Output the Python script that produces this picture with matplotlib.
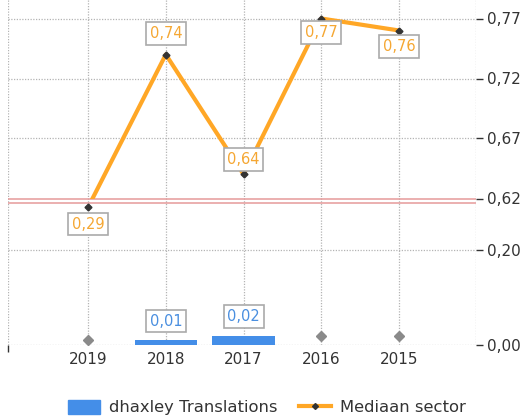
import numpy as np
import matplotlib.pyplot as plt
from matplotlib.lines import Line2D
from matplotlib.patches import Patch, Rectangle
from matplotlib.transforms import offset_copy

years = ['2019', '2018', '2017', '2016', '2015']
company = [np.nan, 0.01, 0.02, np.nan, np.nan]   # dhaxley Translations
sector = [0.29, 0.74, 0.64, 0.77, 0.76]          # Mediaan sector
ytick_vals = [0.00, 0.20, 0.62, 0.67, 0.72, 0.77]

ORANGE = '#FFA726'
BLUE = '#448EE8'
DARK = '#333333'
GRID = '#b4b4b4'

plt.rcParams['font.family'] = 'DejaVu Sans'

# broken y axis: lower part 0..0.30, upper part from 0.62 upward
brk_lo, brk_hi = 0.30, 0.62
k_lo, k_hi, gap = 475.0, 1200.0, 4.0
base = brk_lo * k_lo + gap


def fwd(v):
    v = np.asarray(v, dtype=float)
    mid = brk_lo * k_lo + (v - brk_lo) / (brk_hi - brk_lo) * gap
    return np.where(v <= brk_lo, v * k_lo,
                    np.where(v >= brk_hi, base + (v - brk_hi) * k_hi, mid))


def inv(p):
    p = np.asarray(p, dtype=float)
    mid = brk_lo + (p - brk_lo * k_lo) / gap * (brk_hi - brk_lo)
    return np.where(p <= brk_lo * k_lo, p / k_lo,
                    np.where(p >= base, brk_hi + (p - base) / k_hi, mid))


fig = plt.figure(figsize=(5.29, 4.18), dpi=100)
ax = fig.add_axes([8 / 529, 73 / 418, 468 / 529, 345 / 418])
ax.set_yscale('function', functions=(fwd, inv))
ax.set_xlim(-1.03, 4.99)
ax.set_ylim(0, float(inv(345)))

x = np.arange(len(years))

for s in ax.spines.values():
    s.set_visible(False)

# dotted grid
dots = (0, (1, 1.2))
for yv in ytick_vals:
    if yv != brk_hi:
        ax.axhline(yv, color=GRID, lw=0.9, ls=dots, zorder=0)
for xv in list(x) + [-1.03, 4.99]:
    ax.axvline(xv, color=GRID, lw=0.9, ls=dots, zorder=0)

# axis break marker
ax.axhline(brk_hi, color='#E69A9A', lw=1.1, zorder=1)
ax.axhline(brk_lo, color='#E69A9A', lw=1.1, zorder=1)

# bars
ax.bar(x, np.nan_to_num(company), width=0.8, color=BLUE, zorder=2)
missing_off = [5, 0, 0, 9, 9]
for i, v in enumerate(company):
    if np.isnan(v):
        tr = offset_copy(ax.transData, fig=fig, x=0, y=missing_off[i], units='dots')
        ax.plot(x[i], 0, marker='D', ms=5, color='#8a8a8a', ls='none',
                transform=tr, zorder=3, clip_on=False)

# sector line, hidden below the break
line, = ax.plot(x, sector, color=ORANGE, lw=3, zorder=3, solid_capstyle='round')
yfrac = float(fwd(brk_hi)) / 345
line.set_clip_path(Rectangle((0, yfrac), 1, 1 - yfrac, transform=ax.transAxes))
ax.plot(x, sector, ls='none', marker='D', ms=3.5, color=DARK, zorder=4)

box = dict(boxstyle='square,pad=0.25', fc='white', ec='#aaaaaa', lw=1.2)
sector_off = [-17, 21, 15, -14, -16]
for xi, v, dy in zip(x, sector, sector_off):
    ax.annotate(f'{v:.2f}'.replace('.', ','), (xi, v), xytext=(0, dy),
                textcoords='offset pixels', ha='center', va='center',
                color='#F5A733', fontsize=10.5, bbox=box, zorder=5)
for xi, v in zip(x, company):
    if not np.isnan(v):
        ax.annotate(f'{v:.2f}'.replace('.', ','), (xi, v), xytext=(0, 19),
                    textcoords='offset pixels', ha='center', va='center',
                    color='#4A8FE0', fontsize=10.5, bbox=box, zorder=5)

# ticks
ax.set_xticks(x)
ax.set_xticklabels(years)
ax.tick_params(axis='x', length=0, pad=5, labelsize=11, labelcolor=DARK)
ax.set_xticks([-1.03], minor=True)
ax.tick_params(axis='x', which='minor', length=5, width=1, color=DARK)
ax.yaxis.tick_right()
ax.set_yticks(ytick_vals)
ax.set_yticklabels([f'{v:.2f}'.replace('.', ',') for v in ytick_vals])
ax.yaxis.set_minor_locator(plt.NullLocator())
ax.tick_params(axis='y', length=5, width=1, color=DARK, pad=3,
               labelsize=11, labelcolor=DARK)

handles = [Patch(color=BLUE),
           Line2D([], [], color=ORANGE, lw=3, marker='D', ms=3,
                  mfc=DARK, mec=DARK)]
fig.legend(handles, ['dhaxley Translations', 'Mediaan sector'],
           loc='center', bbox_to_anchor=(0.505, 0.025), ncol=2, frameon=False,
           fontsize=11.8, handlelength=1.95, handleheight=0.92,
           handletextpad=0.55, columnspacing=1.3, labelcolor=DARK)

fig.savefig('out.png', dpi=100)
